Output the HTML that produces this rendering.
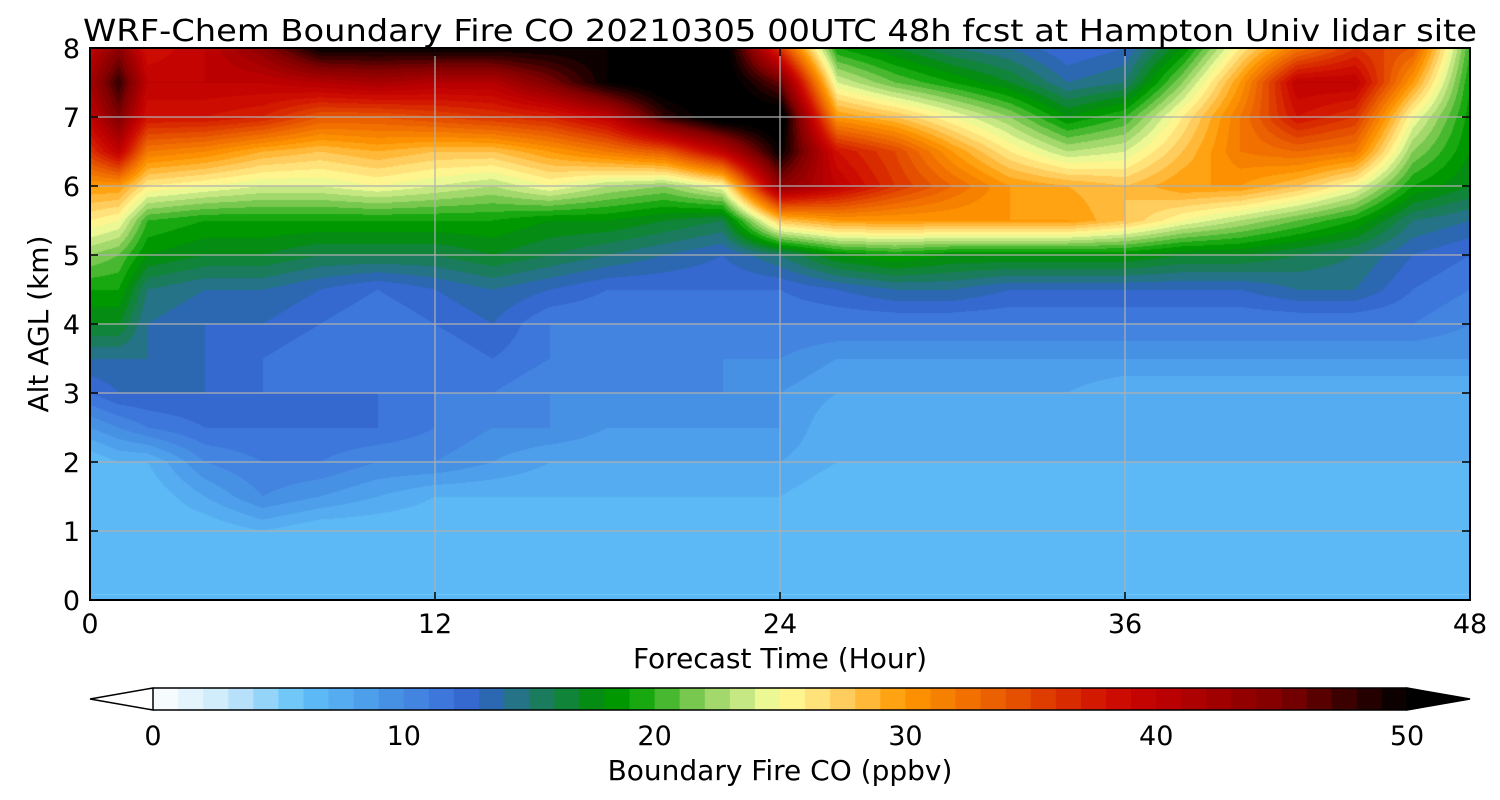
<!DOCTYPE html>
<html><head><meta charset="utf-8"><style>
body{margin:0;width:1500px;height:800px;background:#fff;overflow:hidden;font-family:"DejaVu Sans","Liberation Sans",sans-serif;}
svg text{font-family:"DejaVu Sans","Liberation Sans",sans-serif;}
</style></head><body>
<svg id="svg" width="1500" height="800" xmlns="http://www.w3.org/2000/svg" style="position:absolute;left:0;top:0">
<foreignObject x="90" y="48" width="1380" height="552"><canvas id="cv" width="1380" height="552" xmlns="http://www.w3.org/1999/xhtml"></canvas></foreignObject>
<g id="grid"></g>
<rect x="90" y="48" width="1380" height="552" fill="none" stroke="#000" stroke-width="2"/>
<g id="axes"></g>
<text x="780" y="41" text-anchor="middle" font-size="30" textLength="1394" lengthAdjust="spacingAndGlyphs">WRF-Chem Boundary Fire CO  20210305 00UTC 48h fcst at Hampton Univ lidar site</text>
<text x="780" y="668" text-anchor="middle" font-size="28">Forecast Time (Hour)</text>
<text transform="translate(48,324) rotate(-90)" text-anchor="middle" font-size="28">Alt AGL (km)</text>
<g id="cbar"></g>
<text x="780" y="780" text-anchor="middle" font-size="28">Boundary Fire CO  (ppbv)</text>
</svg>
<script>
const hours=[0,1,2,4,6,8,10,12,14,16,18,20,22,24,26,28,30,32,34,36,38,40,42,44,46,48];
const alts=[0,0.5,1,1.5,2,2.5,3,3.5,4,4.5,5,5.5,6,6.5,7,7.5,8];
const co=[
[6,6,6,6,6,9,12,14,17,19,22,26,30,36,40,42,40],
[6,6,6,6,7,10,13,14,17,19,21,25,30,40,45,48,44],
[6,6,6,6,7,11,13,14,14,15,18,20,26,32,38,40,38],
[6,6,6,8,10,12,13,13,13,14,17,19,25,31,38,40,40],
[6,6,7,10,11,12,12,12,13,14,17,19,24,29,37,40,44],
[6,6,6,9,11,12,12,11,12,13,16,19,24,28,34,41,50],
[6,6,6,8,10,12,12,11,11,12,16,19,25,29,34,42,50],
[6,6,6,7,10,11,11,11,12,13,16,19,24,28,35,41,50],
[6,6,6,7,9,10,11,12,13,14,17,19,23,28,36,41,50],
[6,6,6,7,8,10,10,11,11,13,16,18,25,30,37,45,50],
[6,6,6,7,8,9,10,10,11,12,15,18,23,32,40,50,50],
[6,6,6,7,8,9,10,10,11,12,14,17,22,34,48,52,52],
[6,6,6,7,8,9,10,10,11,12,13,16,25,40,52,52,52],
[6,6,6,7,8,9,9,10,11,12,15,28,44,50,52,46,36],
[6,6,6,6,7,7,8,9,11,13,18,30,40,38,30,24,19],
[6,6,6,6,7,7,8,9,11,14,19,30,36,35,28,21,17],
[6,6,6,6,7,7,8,9,11,14,18,30,33,30,25,19,15],
[6,6,6,6,7,7,8,9,11,13,18,30,30,26,22,17,14],
[6,6,6,6,7,7,8,9,11,13,18,30,29,23,18,14,12],
[6,6,6,6,7,7,7,9,11,13,18,28,28,24,20,15,13],
[6,6,6,6,7,7,7,9,11,13,17,25,30,28,26,22,18],
[6,6,6,6,7,7,7,9,11,13,17,23,30,32,32,30,26],
[6,6,6,6,7,7,7,9,11,14,16,21,28,33,38,40,32],
[6,6,6,6,7,7,7,9,11,14,15,19,25,32,36,40,36],
[6,6,6,6,7,7,7,9,11,12,13,15,19,22,25,30,34],
[6,6,6,6,7,7,7,9,10,11,12,14,17,18,18.5,19,20]];
const stops=[[0,'#ffffff'],[3,'#c8e8fa'],[6,'#60c0f8'],[9,'#4a98e8'],[12,'#3a70d8'],[13,'#3062c8'],[15,'#207870'],[18,'#009000'],[19,'#00a000'],[22,'#90d060'],[24,'#d8f090'],[25,'#ffff98'],[27,'#ffd870'],[30,'#ff9800'],[34,'#e85800'],[38,'#d01000'],[40,'#c00000'],[45,'#800000'],[48,'#300000'],[50,'#000000']];
function hex(h){return [parseInt(h.substr(1,2),16),parseInt(h.substr(3,2),16),parseInt(h.substr(5,2),16)];}
function cmap(v){if(v>=50)return [0,0,0];if(v<=0)return [255,255,255];
 for(let i=0;i<stops.length-1;i++){if(v>=stops[i][0]&&v<=stops[i+1][0]){const a=hex(stops[i][1]),b=hex(stops[i+1][1]),t=(v-stops[i][0])/(stops[i+1][0]-stops[i][0]);return a.map((c,k)=>Math.round(c+(b[k]-c)*t));}}return [0,0,0];}
const X0=90,X1=1470,Y0=600,Y1=48;
const xs=h=>X0+(h-0)/48*(X1-X0), ys=a=>Y0-a/8*(Y0-Y1);
const lut=[];for(let l=0;l<=51;l++)lut.push(cmap(l+0.5));
const cv=document.getElementById('cv'),ctx=cv.getContext('2d');
const W=1380,H=552,img=ctx.createImageData(W,H);
function idx(arr,v){let i=0;while(i<arr.length-2&&v>arr[i+1])i++;return i;}
for(let py=0;py<H;py++){const a=(H-py-0.5)/H*8;const j=idx(alts,a);const ty=(a-alts[j])/(alts[j+1]-alts[j]);
 for(let px=0;px<W;px++){const h=(px+0.5)/W*48;const i=idx(hours,h);const tx=(h-hours[i])/(hours[i+1]-hours[i]);
  const v=(co[i][j]*(1-tx)+co[i+1][j]*tx)*(1-ty)+(co[i][j+1]*(1-tx)+co[i+1][j+1]*tx)*ty;
  const c=lut[Math.max(0,Math.min(51,Math.floor(v)))];const o=(py*W+px)*4;img.data[o]=c[0];img.data[o+1]=c[1];img.data[o+2]=c[2];img.data[o+3]=255;}}
ctx.putImageData(img,0,0);
const NS='http://www.w3.org/2000/svg';
function mk(t,at,p){const e=document.createElementNS(NS,t);for(const k in at)e.setAttribute(k,at[k]);p.appendChild(e);return e;}
const grid=document.getElementById('grid'),axes=document.getElementById('axes');
const xt=[0,12,24,36,48],yt=[0,1,2,3,4,5,6,7,8];
xt.forEach(h=>{const g=mk('line',{x1:xs(h),x2:xs(h),y1:Y1,y2:Y0,stroke:'#b0b0b0','stroke-width':1.2},grid);
 
 mk('line',{x1:xs(h),x2:xs(h),y1:Y0,y2:Y0-8,stroke:'#000','stroke-width':1.5},axes);
 mk('line',{x1:xs(h),x2:xs(h),y1:Y1,y2:Y1+8,stroke:'#000','stroke-width':1.5},axes);
 const l=mk('text',{x:xs(h),y:Y0+33,'text-anchor':'middle','font-size':27},axes);l.textContent=h;
 });
yt.forEach(a=>{const g=mk('line',{x1:X0,x2:X1,y1:ys(a),y2:ys(a),stroke:'#b0b0b0','stroke-width':1.2},grid);
 
 mk('line',{x1:X0,x2:X0+8,y1:ys(a),y2:ys(a),stroke:'#000','stroke-width':1.5},axes);
 mk('line',{x1:X1,x2:X1-8,y1:ys(a),y2:ys(a),stroke:'#000','stroke-width':1.5},axes);
 const l=mk('text',{x:X0-10,y:ys(a)+10,'text-anchor':'end','font-size':27},axes);l.textContent=a;
 });
const cb=document.getElementById('cbar');const C0=153,C1=1407,CY=688,CH=22;const cx=v=>C0+v/50*(C1-C0);
for(let l=0;l<50;l++){const r=mk('rect',{x:cx(l),y:CY,width:cx(l+1)-cx(l)+0.6,height:CH,fill:'rgb('+lut[l].join(',')+')'},cb);
 }
mk('polygon',{points:`${C0},${CY} 90,${CY+CH/2} ${C0},${CY+CH}`,fill:'#fff',stroke:'#000','stroke-width':1.5},cb);
mk('polygon',{points:`${C1},${CY} 1470,${CY+CH/2} ${C1},${CY+CH}`,fill:'#000',stroke:'#000','stroke-width':1.5},cb);
mk('polyline',{points:`${C0},${CY} ${C1},${CY}`,stroke:'#000','stroke-width':1.5},cb);
mk('polyline',{points:`${C0},${CY+CH} ${C1},${CY+CH}`,stroke:'#000','stroke-width':1.5},cb);
[0,10,20,30,40,50].forEach(v=>{const l=mk('text',{x:cx(v),y:745,'text-anchor':'middle','font-size':27},cb);l.textContent=v;
 });
</script>
</body></html>
